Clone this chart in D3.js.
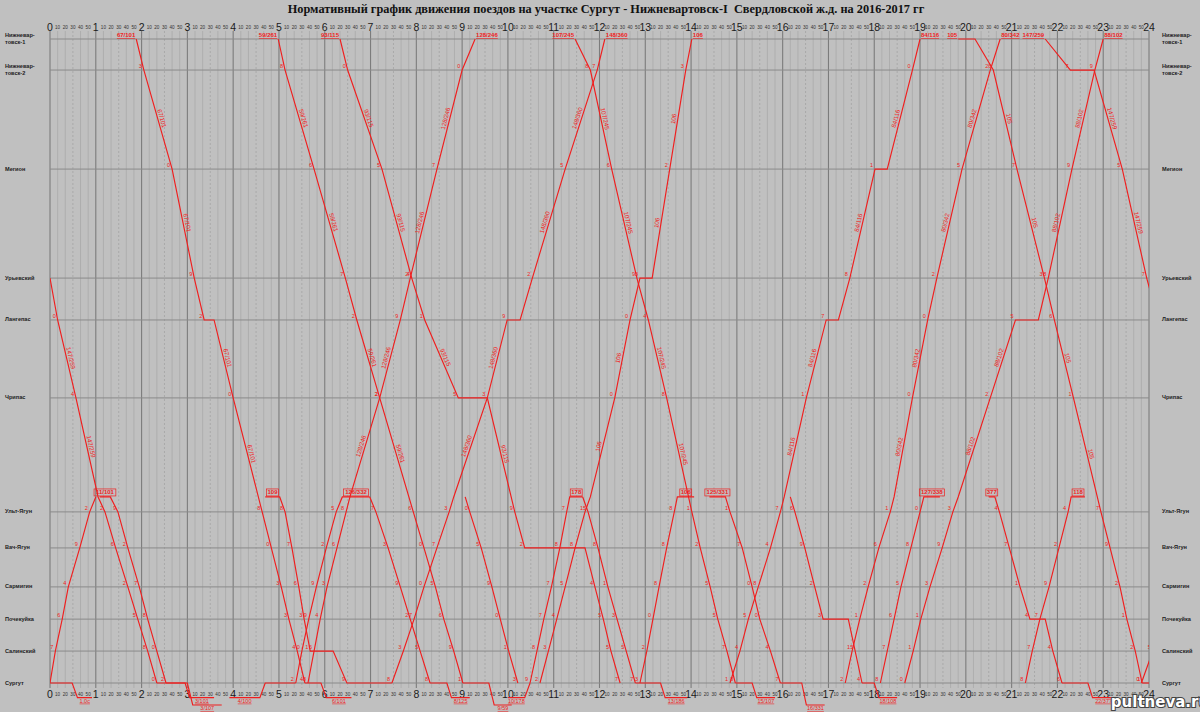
<!DOCTYPE html>
<html><head><meta charset="utf-8">
<script src="https://cdn.jsdelivr.net/npm/d3@7/dist/d3.min.js"></script>
<style>
html,body{margin:0;padding:0;background:#c0c0c0;}
svg{display:block;}
</style></head><body>
<svg id="chart" width="1200" height="712"></svg>
<script>
const titleText = "Нормативный график движения поездов на участке Сургут - Нижневартовск-I  Свердловской ж.д. на 2016-2017 гг";
const hourTicks = d3.range(0, 25);
const minuteTicks = [10, 20, 30, 40, 50];
const stationCodes = ["S","SA","PO","SR","VY","UY","CH","LA","UR","ME","N2","N1"];
const stationNames = ["Сургут","Салинский","Почекуйка","Сармигин","Вач-Ягун","Ульт-Ягун","Чрипас","Лангепас","Урьевский","Мегион","Нижневар-|товск-2","Нижневар-|товск-1"];
const stationKm = [0, 10.9, 21.8, 32.8, 46.1, 58.4, 97.3, 123.9, 138.2, 175.4, 209.2, 219.8];
const extraCodes = ["TP","DP","D2"];
const extraKm = [63.5, -5, -7.5];

// train paths: [time, station]
const t280 = [["0:00","S"],["0:07","SA"],["0:16","PO"],["0:24","SR"],["0:39","VY"],["0:52","UY"],["1:00","TP"]];
const t147b = [["0:00","UR"],["0:10","LA"],["0:34","CH"],["1:03","TP"],["1:12","UY"],["1:26","VY"],["1:42","SR"],["1:55","PO"],["2:08","SA"],["2:20","S"]];
const t11 = [["1:05","TP"],["1:19","TP"],["1:29","UY"],["1:42","VY"],["1:57","SR"],["2:08","PO"],["2:20","SA"],["2:32","S"]];
const t67 = [["1:53","N1"],["2:03","N2"],["2:40","ME"],["3:09","UR"],["3:22","LA"],["3:35","LA"],["4:00","CH"],["4:38","UY"],["4:50","VY"],["5:03","SR"],["5:13","PO"],["5:24","SA"],["5:34","S"]];
const t109 = [["4:42","TP"],["5:01","TP"],["5:08","UY"],["5:17","VY"],["5:26","SR"],["5:33","PO"],["5:41","SA"],["6:11","SA"],["6:29","S"],["7:28","S"]];
const t59 = [["4:59","N1"],["5:08","N2"],["5:46","ME"],["6:27","UR"],["6:42","LA"],["7:12","CH"],["7:56","UY"],["8:10","VY"],["8:25","SR"],["8:36","PO"],["8:49","SA"],["9:01","S"]];
const t126 = [["5:22","S"],["5:30","SA"],["5:39","PO"],["5:49","SR"],["6:02","VY"],["6:15","UY"],["6:23","TP"],["6:59","TP"]];
const t125 = [["6:59","TP"],["7:07","UY"],["7:23","VY"],["7:39","SR"],["7:52","PO"],["8:05","SA"],["8:18","S"]];
const t128 = [["5:38","S"],["5:46","SA"],["5:54","PO"],["6:03","SR"],["6:16","VY"],["6:28","UY"],["6:33","TP"],["7:12","CH"],["7:39","LA"],["7:52","UR"],["8:27","ME"],["9:00","N2"],["9:17","N1"]];
const t93 = [["6:20","N1"],["6:30","N2"],["7:15","ME"],["7:54","UR"],["8:11","LA"],["8:55","CH"],["9:33","CH"],["10:09","UY"],["10:22","VY"],["11:41","VY"],["11:54","SR"],["12:05","PO"],["12:15","SA"],["12:27","S"]];
const t148 = [["7:28","S"],["7:43","SA"],["7:57","PO"],["8:10","SR"],["8:27","VY"],["8:43","UY"],["8:49","TP"],["9:33","CH"],["9:59","LA"],["10:16","LA"],["10:32","UR"],["11:15","ME"],["11:57","N2"],["12:07","N1"]];
const t336 = [["9:04","TP"],["9:10","UY"],["9:25","VY"],["9:39","SR"],["9:50","PO"],["10:01","SA"],["10:13","S"]];
const t178 = [["10:29","S"],["10:38","SA"],["10:47","PO"],["10:57","SR"],["11:08","VY"],["11:17","UY"],["11:21","TP"],["11:38","TP"]];
const t186 = [["11:38","TP"],["11:45","UY"],["11:58","VY"],["12:11","SR"],["12:23","PO"],["12:35","SA"],["12:47","S"]];
const t106 = [["10:42","S"],["10:53","SA"],["11:04","PO"],["11:15","SR"],["11:28","VY"],["11:41","UY"],["11:48","TP"],["12:20","CH"],["12:40","LA"],["12:53","UR"],["13:09","UR"],["13:32","ME"],["13:53","N2"],["14:01","N1"]];
const t107 = [["11:28","N1"],["11:48","N2"],["12:16","ME"],["12:49","UR"],["13:04","LA"],["13:28","CH"],["14:01","UY"],["14:12","VY"],["14:25","SR"],["14:35","PO"],["14:47","SA"],["14:58","S"]];
const t189 = [["12:53","S"],["13:02","SA"],["13:10","PO"],["13:18","SR"],["13:28","VY"],["13:38","UY"],["13:42","TP"],["14:04","TP"]];
const t331 = [["14:24","TP"],["14:45","TP"],["14:51","UY"],["15:07","VY"],["15:20","SR"],["15:30","PO"],["15:44","SA"],["15:57","S"]];
const t84 = [["14:51","S"],["15:04","SA"],["15:15","PO"],["15:28","SR"],["15:44","VY"],["15:57","UY"],["16:02","TP"],["16:31","CH"],["16:57","LA"],["17:13","LA"],["17:28","UR"],["18:01","ME"],["18:17","ME"],["18:50","N2"],["19:00","N1"]];
const t108 = [["16:10","TP"],["16:16","UY"],["16:29","VY"],["16:42","SR"],["16:53","PO"],["17:26","PO"],["17:35","SA"],["17:44","S"]];
const t80 = [["17:22","S"],["17:31","SA"],["17:41","PO"],["17:52","SR"],["18:06","VY"],["18:21","UY"],["18:26","TP"],["18:50","CH"],["19:10","LA"],["19:22","UR"],["19:55","ME"],["20:32","N2"],["20:45","N1"]];
const t127 = [["18:08","S"],["18:17","SA"],["18:26","PO"],["18:35","SR"],["18:48","VY"],["19:00","UY"],["19:05","TP"],["19:26","TP"]];
const t88 = [["18:40","S"],["18:51","SA"],["19:01","PO"],["19:13","SR"],["19:29","VY"],["19:43","UY"],["19:50","TP"],["20:32","CH"],["21:05","LA"],["21:35","LA"],["21:48","UR"],["22:19","ME"],["22:49","N2"],["23:00","N1"]];
const t105 = [["19:50","N1"],["20:12","N1"],["20:36","N2"],["21:07","ME"],["21:43","UR"],["21:56","LA"],["22:21","CH"],["22:57","UY"],["23:09","VY"],["23:22","SR"],["23:31","PO"],["23:42","SA"],["23:51","S"]];
const t377 = [["20:30","TP"],["20:38","TP"],["20:44","UY"],["20:57","VY"],["21:11","SR"],["21:24","PO"],["21:44","PO"],["21:54","SA"],["22:06","S"]];
const t118 = [["21:18","S"],["21:27","SA"],["21:37","PO"],["21:49","SR"],["22:02","VY"],["22:14","UY"],["22:18","TP"],["22:36","TP"]];
const t147a = [["21:44","N1"],["22:17","N2"],["22:48","N2"],["23:25","ME"],["23:57","UR"],["24:12","LA"]];
const t120 = [["23:50","S"],["24:05","SA"]];

// depot moves below Сургут
const h1 = [["0:00","S"],["0:29","S"],["0:36","DP"],["0:55","DP"]];
const h2 = [["2:20","S"],["2:57","S"],["3:03","DP"],["3:35","DP"]];
const h3 = [["2:32","S"],["3:00","S"],["3:07","D2"],["3:45","D2"]];
const h4 = [["3:55","DP"],["4:35","DP"],["4:42","S"],["5:22","S"]];
const h5 = [["5:34","S"],["5:55","S"],["6:02","DP"],["6:35","DP"]];
const h6 = [["8:18","S"],["8:40","S"],["8:46","DP"],["9:10","DP"]];
const h7 = [["9:01","S"],["9:35","S"],["9:42","D2"],["10:05","D2"]];
const h8 = [["10:00","DP"],["10:22","DP"],["10:29","S"]];
const h9 = [["12:47","S"],["13:20","S"],["13:26","DP"],["13:55","DP"]];
const h10 = [["14:58","S"],["15:20","S"],["15:26","DP"],["15:50","DP"]];
const h11 = [["15:57","S"],["16:25","S"],["16:31","D2"],["16:55","D2"]];
const h12 = [["17:44","S"],["18:00","S"],["18:06","DP"],["18:30","DP"]];
const h13 = [["22:06","S"],["22:40","S"],["22:46","DP"],["23:15","DP"]];
const h14 = [["23:51","S"],["24:00","S"]];

const trains = [
  {label:"280/290", path:t280}, {label:"147/259", path:t147b}, {label:"11/101", path:t11},
  {label:"67/101", path:t67}, {label:"109", path:t109}, {label:"59/261", path:t59},
  {label:"126/332", path:t126}, {label:"125/331", path:t125}, {label:"128/246", path:t128},
  {label:"93/115", path:t93}, {label:"148/360", path:t148}, {label:"128/336", path:t336},
  {label:"178", path:t178}, {label:"186", path:t186}, {label:"106", path:t106},
  {label:"107/245", path:t107}, {label:"106", path:t189}, {label:"125/331", path:t331},
  {label:"84/116", path:t84}, {label:"108", path:t108}, {label:"80/342", path:t80},
  {label:"127/338", path:t127}, {label:"88/102", path:t88}, {label:"105", path:t105},
  {label:"377", path:t377}, {label:"118", path:t118}, {label:"147/259", path:t147a},
  {label:"120/102", path:t120}
];
const hooks = [
  {label:"1.0с", path:h1}, {label:"3/101", path:h2}, {label:"3/107", path:h3}, {label:"4/100", path:h4},
  {label:"6/101", path:h5}, {label:"8/125", path:h6}, {label:"9/59", path:h7}, {label:"10/178", path:h8},
  {label:"13/186", path:h9}, {label:"15/107", path:h10}, {label:"16/331", path:h11}, {label:"18/108", path:h12},
  {label:"22/377", path:h13}, {label:"", path:h14}
];

// ---------- drawing ----------
const svg = d3.select("#chart");
const W = 1200, H = 712;
const x = d3.scaleLinear().domain([0, 24]).range([50, 1149]);
const y = d3.scaleLinear().domain([0, 219.8]).range([683, 39]);
const km = {};
stationCodes.forEach((c, i) => km[c] = stationKm[i]);
extraCodes.forEach((c, i) => km[c] = extraKm[i]);
const toH = s => { const p = s.split(":").map(Number); return p[0] + p[1] / 60; };
const RED = "#f01e1e";
const FONT = "Liberation Sans, Arial, sans-serif";

svg.append("rect").attr("width", W).attr("height", H).attr("fill", "#c0c0c0");

svg.append("text").attr("x", 606).attr("y", 13).attr("text-anchor", "middle")
  .attr("font-family", "Liberation Serif, serif").attr("font-weight", "bold")
  .attr("font-size", 12.3).attr("fill", "#111").style("white-space", "pre").text(titleText);

// vertical grid
const gGrid = svg.append("g");
const allMin = d3.range(0, 24 * 60 + 1, 10);
gGrid.selectAll("line.v").data(allMin).join("line")
  .attr("x1", d => x(d / 60)).attr("x2", d => x(d / 60))
  .attr("y1", 31).attr("y2", 688)
  .attr("stroke", d => d % 60 === 0 ? "#7c7c7c" : (d % 30 === 0 ? "#a3a3a3" : "#a9a9a9"))
  .attr("stroke-width", d => d % 60 === 0 ? 1.1 : 0.8)
  .attr("stroke-dasharray", d => (d % 60 !== 0 && d % 30 === 0) ? "2,2" : null);

// station lines
gGrid.selectAll("line.h").data(stationKm).join("line")
  .attr("x1", x(0)).attr("x2", x(24))
  .attr("y1", d => y(d)).attr("y2", d => y(d))
  .attr("stroke", "#8a8a8a").attr("stroke-width", 1);

// hour / minute labels top & bottom
[27, 694].forEach(yy => {
  const g = svg.append("g").attr("font-family", FONT);
  g.selectAll("text.h").data(hourTicks).join("text")
    .attr("x", d => x(d)).attr("y", yy + 3.5).attr("text-anchor", "middle")
    .attr("font-size", 10.5).attr("fill", "#1a1a1a").text(d => d);
  const mins = [];
  d3.range(0, 24).forEach(h => minuteTicks.forEach(m => mins.push(h + m / 60)));
  g.selectAll("text.m").data(mins).join("text")
    .attr("x", d => x(d)).attr("y", yy + 2).attr("text-anchor", "middle")
    .attr("font-size", 4.6).attr("fill", "#333").text(d => Math.round((d % 1) * 60));
});

// station labels
const sl = svg.append("g").attr("font-family", FONT)
  .attr("font-weight", "bold").attr("font-size", 5.6).attr("fill", "#222");
stationNames.forEach((n, i) => {
  const parts = n.split("|");
  [5, 1162].forEach(xx => {
    parts.forEach((p, j) => {
      sl.append("text").attr("x", xx)
        .attr("y", y(stationKm[i]) + (parts.length > 1 ? (j === 0 ? -2 : 4.5) : 1.5))
        .text(p);
    });
  });
});

// clip
svg.append("clipPath").attr("id", "plot").append("rect")
  .attr("x", x(0)).attr("y", 0).attr("width", x(24) - x(0)).attr("height", H);
const gT = svg.append("g").attr("clip-path", "url(#plot)");

const line = d3.line().x(d => x(toH(d[0]))).y(d => y(km[d[1]]));

function drawTrain(t, isHook) {
  gT.append("path").attr("d", line(t.path)).attr("fill", "none")
    .attr("stroke", RED).attr("stroke-width", 1.15);
  const pts = t.path.map(d => [x(toH(d[0])), y(km[d[1]]), d]);
  for (let i = 0; i < pts.length - 1; i++) {
    const [x1, y1] = pts[i], [x2, y2] = pts[i + 1];
    const dx = x2 - x1, dy = y2 - y1, len = Math.hypot(dx, dy);
    if (!isHook && Math.abs(dy) > 1 && len > 45) {
      const ang = Math.atan2(dy, dx) * 180 / Math.PI;
      gT.append("text").attr("transform", `translate(${(x1 + x2) / 2},${(y1 + y2) / 2}) rotate(${ang})`)
        .attr("text-anchor", "middle").attr("dy", -2)
        .attr("font-family", FONT).attr("font-size", 6.2)
        .attr("fill", RED).text(t.label);
    }
    if (Math.abs(dy) < 1 && pts[i][2][1] === "TP" && !isHook) {
      const cx = (x1 + x2) / 2;
      const tw = t.label.length * 3.3 + 2;
      gT.append("rect").attr("x", cx - tw / 2).attr("y", y1 - 8).attr("width", tw).attr("height", 7)
        .attr("fill", "none").attr("stroke", RED).attr("stroke-width", 0.7);
      gT.append("text").attr("x", cx).attr("y", y1 - 2.5).attr("text-anchor", "middle")
        .attr("font-family", FONT).attr("font-size", 6)
        .attr("font-weight", "bold").attr("fill", RED).text(t.label);
    }
    if (isHook && Math.abs(dy) < 1 && pts[i][2][1] !== "S" && t.label) {
      gT.append("text").attr("x", (x1 + x2) / 2).attr("y", y1 + 5).attr("text-anchor", "middle")
        .attr("font-family", FONT).attr("font-size", 5.5)
        .attr("text-decoration", "underline").attr("fill", RED).text(t.label);
    }
  }
  if (!isHook) {
    pts.forEach((p, i) => {
      if (i > 0 && Math.abs(p[1] - pts[i - 1][1]) < 1) return;
      if (p[2][1] === "TP") return;
      if (p[2][1] === "N1") return;
      const m = +p[2][0].split(":")[1] % 10;
      gT.append("text").attr("x", p[0] - 5).attr("y", p[1] - 2)
        .attr("font-family", FONT).attr("font-size", 5.5)
        .attr("fill", RED).text(m);
    });
    // end labels at Нижневартовск-1
    const first = pts[0], last = pts[pts.length - 1];
    if (first[2][1] === "N1") {
      gT.append("text").attr("x", first[0] - 1).attr("y", first[1] - 2).attr("text-anchor", "end")
        .attr("font-family", FONT).attr("font-size", 6).attr("font-weight", "bold")
        .attr("text-decoration", "underline").attr("fill", RED).text(t.label);
    }
    if (last[2][1] === "N1") {
      gT.append("text").attr("x", last[0] + 1).attr("y", last[1] - 2).attr("text-anchor", "start")
        .attr("font-family", FONT).attr("font-size", 6).attr("font-weight", "bold")
        .attr("text-decoration", "underline").attr("fill", RED).text(t.label);
    }
  }
}
trains.forEach(t => drawTrain(t, false));
hooks.forEach(t => drawTrain(t, true));

// watermark
svg.append("text").attr("x", 1160).attr("y", 707).attr("text-anchor", "middle")
  .attr("font-family", "DejaVu Sans, sans-serif").attr("font-weight", "bold").attr("font-size", 15)
  .attr("fill", "#ffffff").attr("stroke", "#444").attr("stroke-width", 2.2)
  .attr("paint-order", "stroke").text("pultneva.ru");
</script>
</body></html>
